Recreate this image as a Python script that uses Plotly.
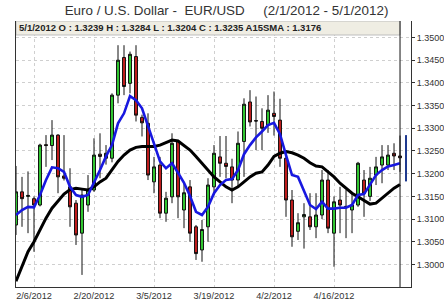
import plotly.graph_objects as go

dates = ["2/1/2012","2/2/2012","2/3/2012","2/6/2012","2/7/2012","2/8/2012","2/9/2012","2/10/2012",
         "2/13/2012","2/14/2012","2/15/2012","2/16/2012","2/17/2012","2/20/2012","2/21/2012","2/22/2012",
         "2/23/2012","2/24/2012","2/27/2012","2/28/2012","2/29/2012","3/1/2012","3/2/2012","3/5/2012",
         "3/6/2012","3/7/2012","3/8/2012","3/9/2012","3/12/2012","3/13/2012","3/14/2012","3/15/2012",
         "3/16/2012","3/19/2012","3/20/2012","3/21/2012","3/22/2012","3/23/2012","3/26/2012","3/27/2012",
         "3/28/2012","3/29/2012","3/30/2012","4/2/2012","4/3/2012","4/4/2012","4/5/2012","4/6/2012",
         "4/9/2012","4/10/2012","4/11/2012","4/12/2012","4/13/2012","4/16/2012","4/17/2012","4/18/2012",
         "4/19/2012","4/20/2012","4/23/2012","4/24/2012","4/25/2012","4/26/2012","4/27/2012","4/30/2012",
         "5/1/2012"]

open_ = [1.3087,1.3160,1.3150,1.3145,1.3131,1.3264,1.3262,1.3285,1.3195,1.3171,1.3135,1.3069,1.3131,
         1.3164,1.3243,1.3234,1.3234,1.3373,1.3456,1.3399,1.3458,1.3324,1.3311,1.3182,1.3219,1.3113,
         1.3149,1.3271,1.3120,1.3171,1.3083,1.3032,1.3083,1.3171,1.3237,1.3223,1.3215,1.3186,1.3271,
         1.3358,1.3317,1.3315,1.3307,1.3333,1.3318,1.3234,1.3142,1.3073,1.3105,1.3105,1.3083,1.3109,
         1.3186,1.3069,1.3142,1.3128,1.3120,1.3131,1.3186,1.3150,1.3197,1.3219,1.3219,1.3245,1.3239]
high = [1.3217,1.3193,1.3205,1.3150,1.3266,1.3285,1.3318,1.3287,1.3285,1.3212,1.3142,1.3164,1.3197,
        1.3278,1.3289,1.3263,1.3377,1.3483,1.3483,1.3469,1.3483,1.3330,1.3333,1.3237,1.3237,1.3160,
        1.3289,1.3274,1.3182,1.3186,1.3087,1.3098,1.3190,1.3263,1.3283,1.3283,1.3233,1.3293,1.3366,
        1.3384,1.3370,1.3344,1.3373,1.3381,1.3365,1.3245,1.3164,1.3113,1.3135,1.3157,1.3157,1.3208,
        1.3208,1.3150,1.3171,1.3164,1.3157,1.3226,1.3208,1.3215,1.3237,1.3263,1.3263,1.3267,1.3284]
low = [1.3065,1.3083,1.3069,1.3028,1.3128,1.3215,1.3230,1.3157,1.3185,1.3083,1.3043,1.2977,1.3116,
       1.3160,1.3190,1.3220,1.3225,1.3355,1.3373,1.3377,1.3315,1.3282,1.3186,1.3157,1.3102,1.3094,
       1.3135,1.3102,1.3080,1.3050,1.3010,1.3006,1.3050,1.3153,1.3193,1.3190,1.3135,1.3171,1.3193,
       1.3304,1.3252,1.3252,1.3290,1.3284,1.3215,1.3105,1.3039,1.3054,1.3035,1.3076,1.3058,1.3100,
       1.3069,1.2995,1.3069,1.3058,1.3069,1.3127,1.3105,1.3140,1.3175,1.3179,1.3208,1.3208,1.3204]
close = [1.3160,1.3145,1.3152,1.3131,1.3263,1.3262,1.3285,1.3193,1.3190,1.3127,1.3065,1.3153,1.3164,
         1.3241,1.3238,1.3245,1.3373,1.3450,1.3392,1.3463,1.3329,1.3312,1.3197,1.3215,1.3113,1.3146,
         1.3267,1.3149,1.3158,1.3069,1.3024,1.3077,1.3175,1.3245,1.3223,1.3216,1.3186,1.3267,1.3353,
         1.3314,1.3316,1.3300,1.3340,1.3326,1.3234,1.3142,1.3061,1.3092,1.3110,1.3083,1.3109,1.3186,
         1.3080,1.3138,1.3131,1.3127,1.3131,1.3223,1.3157,1.3190,1.3215,1.3237,1.3241,1.3239,1.3235]

sma15 = [1.2963,1.2995,1.3028,1.3050,1.3077,1.3102,1.3124,1.3140,1.3155,1.3165,1.3168,1.3166,1.3164,
         1.3171,1.3182,1.3190,1.3208,1.3227,1.3241,1.3252,1.3258,1.3260,1.3260,1.3260,1.3263,1.3268,
         1.3274,1.3272,1.3263,1.3252,1.3238,1.3223,1.3208,1.3193,1.3182,1.3171,1.3164,1.3171,1.3182,
         1.3193,1.3201,1.3204,1.3219,1.3238,1.3245,1.3249,1.3246,1.3241,1.3234,1.3224,1.3217,1.3215,
         1.3204,1.3193,1.3179,1.3168,1.3157,1.3149,1.3141,1.3133,1.3135,1.3146,1.3157,1.3168,1.3176]
fast_ma = [1.3109,1.3120,1.3127,1.3126,1.3153,1.3186,1.3214,1.3212,1.3204,1.3171,1.3153,1.3149,1.3153,
           1.3179,1.3208,1.3238,1.3263,1.3311,1.3333,1.3371,1.3362,1.3344,1.3304,1.3267,1.3227,1.3212,
           1.3223,1.3202,1.3180,1.3151,1.3116,1.3109,1.3127,1.3157,1.3175,1.3186,1.3188,1.3208,1.3243,
           1.3263,1.3280,1.3293,1.3307,1.3312,1.3287,1.3241,1.3197,1.3193,1.3163,1.3131,1.3122,1.3138,
           1.3123,1.3123,1.3125,1.3125,1.3131,1.3153,1.3155,1.3177,1.3197,1.3208,1.3216,1.3219,1.3223]

range_marker_date = ["5/2/2012", "5/2/2012"]
range_marker_vals = [1.3183, 1.3285]

tick_dates = ["2/6/2012", "2/20/2012", "3/5/2012", "3/19/2012", "4/2/2012", "4/16/2012"]
cursor_date_index = 64
title_text = "Euro / U.S. Dollar -\u00a0\u00a0EUR/USD\u00a0\u00a0\u00a0\u00a0\u00a0(2/1/2012 - 5/1/2012)"
header_text = "5/1/2012 O : 1.3239 H : 1.3284 L : 1.3204 C : 1.3235 A15SMA : 1.3176"

FONT = "Liberation Sans, Arial, sans-serif"

fig = go.Figure()
fig.add_trace(go.Candlestick(
    x=dates, open=open_, high=high, low=low, close=close,
    increasing=dict(fillcolor="#33CC33", line=dict(color="#111111", width=1)),
    decreasing=dict(fillcolor="#C41E1E", line=dict(color="#111111", width=1)),
    whiskerwidth=0, showlegend=False, hoverinfo="skip"))
fig.add_trace(go.Scatter(x=dates, y=sma15, mode="lines",
                         line=dict(color="#000000", width=3), showlegend=False, hoverinfo="skip"))
fig.add_trace(go.Scatter(x=dates, y=fast_ma, mode="lines",
                         line=dict(color="#1818E0", width=2.6), showlegend=False, hoverinfo="skip"))
fig.add_trace(go.Scatter(x=range_marker_date, y=range_marker_vals, mode="lines",
                         line=dict(color="#1F3A8F", width=2), showlegend=False, hoverinfo="skip"))

fig.update_layout(
    width=444, height=301,
    margin=dict(l=16, r=33, t=21, b=14),
    paper_bgcolor="white", plot_bgcolor="white",
    font=dict(family=FONT, color="#333333", size=9),
    title=dict(text=title_text, font=dict(family=FONT, size=13.4, color="#333333"),
               x=226.5 / 444, xref="container", xanchor="center",
               y=1 - 10.5 / 301, yref="container", yanchor="middle"),
    boxgap=0.3,
    xaxis=dict(type="category", range=[0, 65.83], rangeslider=dict(visible=False), automargin=False,
               tickmode="array", tickvals=tick_dates, ticktext=tick_dates,
               showgrid=True, gridcolor="#CFCFCF", griddash="dot", gridwidth=1,
               showline=True, linecolor="#333333", linewidth=1, ticks="",
               tickfont=dict(size=9.2, color="#333333"), fixedrange=True),
    yaxis=dict(side="right", range=[1.29504, 1.353634], tickmode="linear", tick0=1.3, dtick=0.005,
               automargin=False,
               tickformat=".4f", showgrid=True, gridcolor="#CFCFCF", griddash="dot", gridwidth=1,
               showline=True, linecolor="#333333", linewidth=1, mirror=True,
               ticks="outside", ticklen=3, tickcolor="#333333", zeroline=False,
               tickfont=dict(size=9, color="#333333"), fixedrange=True),
    shapes=[
        dict(type="rect", xref="x", yref="y", x0=0, x1=cursor_date_index, y0=1.35055, y1=1.353634,
             fillcolor="#EFEDE3", line=dict(color="#BDBDBD", width=1), layer="above"),
        dict(type="line", xref="x", yref="paper", x0=cursor_date_index, x1=cursor_date_index, y0=0, y1=1,
             line=dict(color="#111111", width=1), layer="above"),
    ],
    annotations=[
        dict(text="<b>" + header_text + "</b>", xref="paper", yref="paper", x=0.003, y=(287 - 28) / 266,
             xanchor="left", yanchor="middle", showarrow=False,
             font=dict(family=FONT, size=9.5, color="#222222")),
    ],
)

fig.write_html("out.html")
